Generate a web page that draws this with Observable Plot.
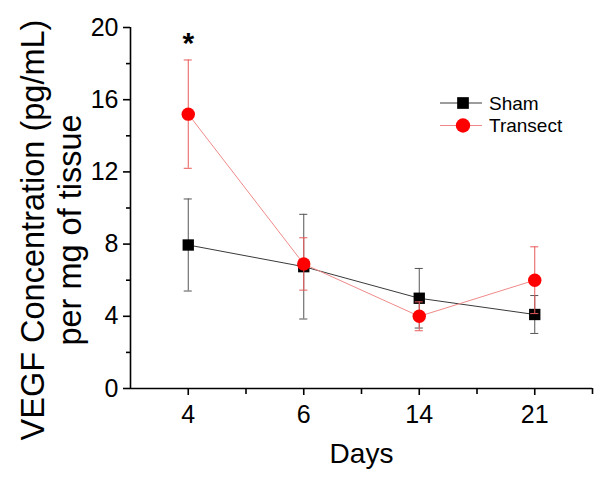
<!DOCTYPE html>
<html>
<head>
<meta charset="utf-8">
<script src="https://cdn.jsdelivr.net/npm/d3@7"></script>
<script src="https://cdn.jsdelivr.net/npm/@observablehq/plot@0.6"></script>
<style>
  body { margin: 0; background: #fff; }
  #wrap { position: relative; width: 602px; height: 488px; font-family: "Liberation Sans", Arial, sans-serif; }
  #legend { position: absolute; left: 0; top: 0; }
</style>
</head>
<body>
<div id="wrap"></div>
<script>
// ---- data ----
const days = ["4", "6", "14", "21"];
const shamMean = [7.95, 6.75, 5.0, 4.1];
const shamErr = [2.55, 2.9, 1.65, 1.05];
const transectMean = [15.2, 6.9, 4.0, 6.0];
const transectErr = [3.0, 1.45, 0.8, 1.85];
const seriesNames = ["Sham", "Transect"];
const yTicks = [0, 4, 8, 12, 16, 20];
const yMinorTicks = [2, 6, 10, 14, 18];
const xMinorTicks = [0.5, 1.5, 2.5, 3.5];
const significance = ["*", "", "", ""];
const yTitle = "VEGF Concentration (pg/mL)\nper mg of tissue";
const xTitle = "Days";

// ---- build table ----
const toRows = (name, means, errs) => days.map((d, i) => ({
  series: name, i, day: d, mean: means[i], lo: means[i] - errs[i], hi: means[i] + errs[i]
}));
const sham = toRows(seriesNames[0], shamMean, shamErr);
const transect = toRows(seriesNames[1], transectMean, transectErr);
const stars = transect.filter((d, i) => significance[i]).map(d => ({...d, label: significance[d.i]}));

const capHalf = 0.035;
const font = "Liberation Sans, Arial, sans-serif";

function seriesMarks(rows, c) {
  return [
    Plot.line(rows, {x: "i", y: "mean", stroke: c.line, strokeWidth: 1}),
    Plot.ruleX(rows, {x: "i", y1: "lo", y2: "hi", stroke: c.err, strokeWidth: 1}),
    Plot.ruleY(rows, {y: "hi", x1: d => d.i - capHalf, x2: d => d.i + capHalf, stroke: c.err, strokeWidth: 1}),
    Plot.ruleY(rows, {y: "lo", x1: d => d.i - capHalf, x2: d => d.i + capHalf, stroke: c.err, strokeWidth: 1}),
    Plot.dot(rows, {x: "i", y: "mean", symbol: c.symbol, r: c.r, fill: c.fill, stroke: "none"})
  ];
}

const shamStyle = {line: "#3a3a3a", err: "#555", symbol: "square", r: 6.4, fill: "#000"};
const transectStyle = {line: "#f08a8a", err: "#e85a5a", symbol: "circle", r: 6.7, fill: "#ff0000"};

const axisStroke = {stroke: "#000", strokeWidth: 1.6};

const chart = Plot.plot({
  width: 602,
  height: 488,
  marginLeft: 130,
  marginRight: 10,
  marginTop: 27,
  marginBottom: 100,
  style: {fontFamily: font, color: "#000", background: "#fff"},
  x: {type: "linear", domain: [-0.5, 3.5]},
  y: {domain: [0, 20]},
  marks: [
    // axis lines
    Plot.ruleY([0], {x1: -0.5, x2: 3.5, ...axisStroke}),
    Plot.ruleX([-0.5], {y1: 0, y2: 20, ...axisStroke}),
    // y axis
    Plot.axisY({ticks: yTicks, tickSize: 7, tickPadding: 5, fontSize: 25, label: null, ...axisStroke}),
    Plot.axisY({ticks: yMinorTicks, tickSize: 4, text: null, label: null, ...axisStroke}),
    // x axis
    Plot.axisX({ticks: [0, 1, 2, 3], tickFormat: i => days[i], tickSize: 7, tickPadding: 10, fontSize: 25, label: null, ...axisStroke}),
    Plot.axisX({ticks: xMinorTicks, tickSize: 6, text: null, label: null, ...axisStroke}),
    // titles
    Plot.text([xTitle], {text: d => d, frameAnchor: "bottom", lineAnchor: "top", dy: 55, fontSize: 28, fill: "#000"}),
    Plot.text([yTitle], {text: d => d, frameAnchor: "left", rotate: -90, textAnchor: "middle", lineAnchor: "middle", lineHeight: 1.14, dx: -80, dy: 22, fontSize: 32.5, fill: "#000"}),
    // series
    ...seriesMarks(sham, shamStyle),
    ...seriesMarks(transect, transectStyle),
    // significance
    Plot.text(stars, {x: "i", y: "hi", text: "label", lineAnchor: "bottom", dy: -7, fontSize: 30, fontWeight: "bold", fill: "#000"})
  ]
});

const wrap = document.getElementById("wrap");
wrap.appendChild(chart);

// ---- legend overlay ----
const legend = d3.select(wrap).append("svg")
  .attr("id", "legend").attr("width", 602).attr("height", 488)
  .style("pointer-events", "none");
const legendItems = [
  {name: seriesNames[0], s: shamStyle, r: 6.6},
  {name: seriesNames[1], s: transectStyle, r: 7.2}
];
legendItems.forEach((it, k) => {
  const g = legend.append("g").attr("transform", `translate(440,${103 + k * 22.5})`);
  g.append("line").attr("x1", 0).attr("x2", 42).attr("y1", 0).attr("y2", 0)
    .attr("stroke", it.s.line).attr("stroke-width", 1);
  const sym = it.s.symbol === "square" ? d3.symbolSquare : d3.symbolCircle;
  g.append("path").attr("d", d3.symbol(sym, Math.PI * it.r * it.r)())
    .attr("transform", "translate(23,0)").attr("fill", it.s.fill);
  g.append("text").attr("x", 49).attr("y", 0).attr("dy", "0.35em")
    .attr("font-family", font).attr("font-size", 19).attr("fill", "#000").text(it.name);
});
</script>
</body>
</html>
